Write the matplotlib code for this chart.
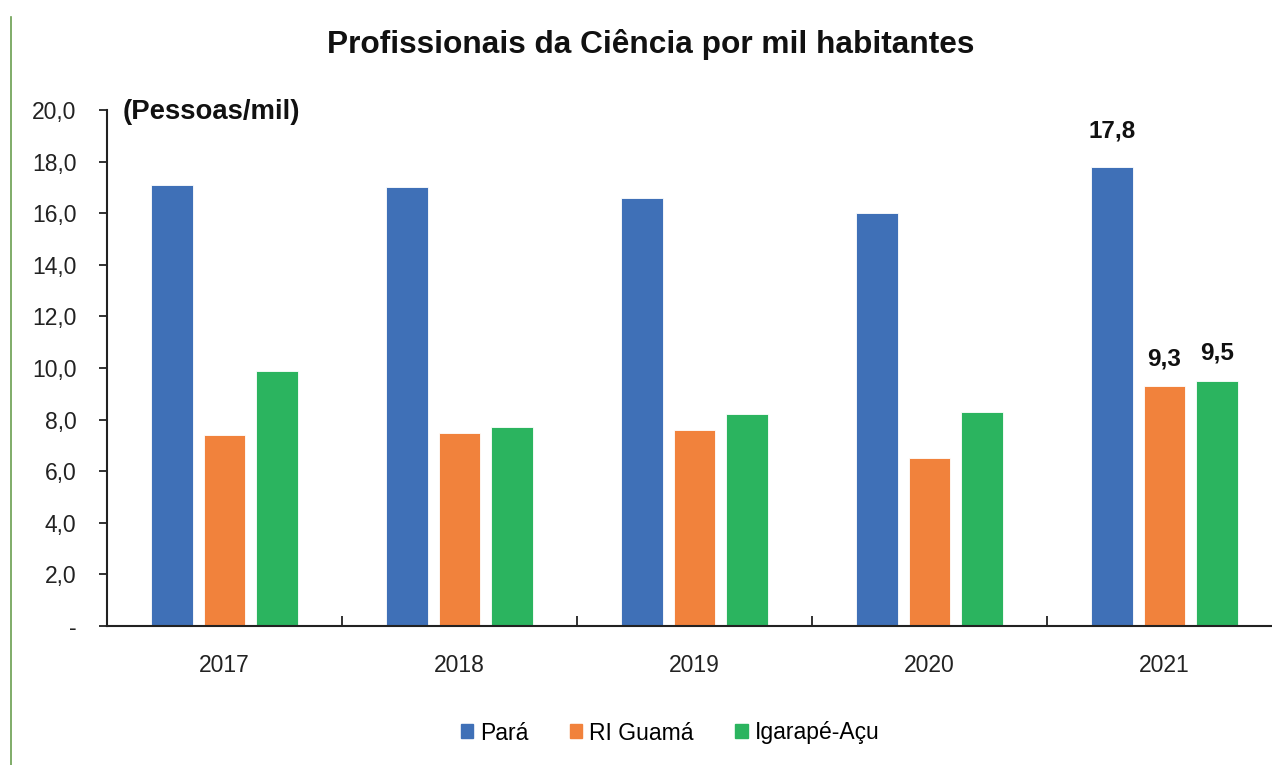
import matplotlib
matplotlib.use("Agg")
import matplotlib.pyplot as plt
from matplotlib.lines import Line2D
import numpy as np
from matplotlib import font_manager

years = ["2017", "2018", "2019", "2020", "2021"]
para = [17.1, 17.0, 16.6, 16.0, 17.8]
ri_guama = [7.4, 7.5, 7.6, 6.5, 9.3]
igarape = [9.9, 7.7, 8.2, 8.3, 9.5]
series_names = ["Pará", "RI Guamá", "Igarapé-Açu"]
colors = ["#3F70B7", "#F1823C", "#2BB45F"]
yticks = [0, 2, 4, 6, 8, 10, 12, 14, 16, 18, 20]

names = {f.name for f in font_manager.fontManager.ttflist}
narrow = "Liberation Sans Narrow" if "Liberation Sans Narrow" in names else "Liberation Sans"
plt.rcParams['font.family'] = [narrow, 'DejaVu Sans']

W, H = 1272, 765
fig = plt.figure(figsize=(W / 100, H / 100), dpi=100)

# axes pixel geometry (right edge extends past the image)
left, right, top, bottom = 107, 1282, 110, 626
ax = fig.add_axes([left / W, 1 - bottom / H, (right - left) / W, (bottom - top) / H])

x = np.arange(len(years))
width = 0.178
step = 0.223
all_series = [para, ri_guama, igarape]
for i, (vals, c, name) in enumerate(zip(all_series, colors, series_names)):
    ax.bar(x + (i - 1) * step, vals, width=width, color=c, edgecolor="#FFFFFF",
           linewidth=0.6, label=name, zorder=2)

# data labels for the last year
last = len(years) - 1
for i, vals in enumerate(all_series):
    off = 0.95 if i == 0 else 0.62
    ax.text(x[last] + (i - 1) * step, vals[last] + off, f"{vals[last]:.1f}".replace(".", ","),
            ha="center", va="bottom", fontsize=17.5, fontweight="bold", color="#111111")

ax.set_xlim(-0.5, len(years) - 0.5)
ax.set_ylim(0, 20)
ax.set_yticks(yticks)
ax.set_yticklabels(["-" if v == 0 else f"{v:.1f}".replace(".", ",") for v in yticks],
                   fontsize=16.5, color="#222222")
ax.set_xticks(x)
ax.set_xticklabels(years, fontsize=16.5, color="#222222")
ax.tick_params(axis="x", length=0, pad=20)
ax.tick_params(axis="y", direction="out", length=6, width=1.3, color="#222222", pad=16)

# category boundary ticks on x-axis (pointing up)
ax.set_xticks(np.arange(len(years) + 1) - 0.5, minor=True)
ax.tick_params(axis="x", which="minor", direction="in", length=7, width=1.3, color="#222222")

for s in ["top", "right"]:
    ax.spines[s].set_visible(False)
for s in ["left", "bottom"]:
    ax.spines[s].set_linewidth(1.5)
    ax.spines[s].set_color("#222222")

fig.text(651 / W, 1 - 45 / H, "Profissionais da Ciência por mil habitantes",
         ha="center", va="center", fontsize=22.8, fontweight="bold", color="#111111")
fig.text(123 / W, 1 - 112 / H, "(Pessoas/mil)", ha="left", va="center",
         fontsize=19.8, fontweight="bold", color="#111111")

handles = [plt.Rectangle((0, 0), 1, 1, color=c) for c in colors]
fig.legend(handles, series_names, loc="center", bbox_to_anchor=(670 / W, 1 - 733 / H),
           ncol=3, frameon=False, fontsize=16.5, handlelength=0.55, handleheight=0.55,
           handletextpad=0.3, columnspacing=1.8)

# thin green border line at the left of the image
fig.add_artist(Line2D([11 / W, 11 / W], [0, 1 - 17 / H], transform=fig.transFigure,
                      color="#6A9E4F", linewidth=1.2))

fig.savefig("out.png", dpi=100)
